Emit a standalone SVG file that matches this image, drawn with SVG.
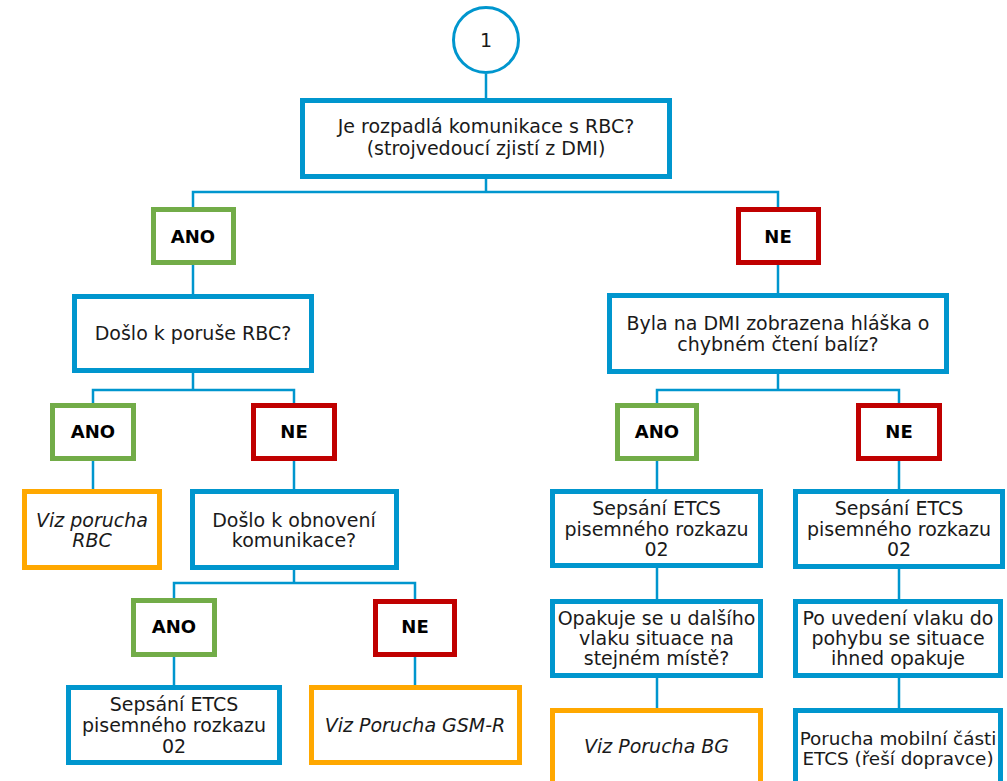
<svg xmlns="http://www.w3.org/2000/svg" width="1007" height="781" viewBox="0 0 1007 781">
<style>
.b{fill:#fff;stroke:#0096CE;stroke-width:5}
.g{fill:#fff;stroke:#72AC48;stroke-width:5}
.r{fill:#fff;stroke:#C00000;stroke-width:5}
.o{fill:#fff;stroke:#FFA800;stroke-width:5}
.t{font-family:"DejaVu Sans",Verdana,sans-serif;font-size:19px;fill:#1a1a1a;text-anchor:middle}
.bt{font-family:"DejaVu Sans",Verdana,sans-serif;font-size:18px;font-weight:bold;fill:#000;text-anchor:middle}
.it{font-style:italic}
.s{font-size:18.4px}
#conn path{fill:none;stroke:#0096CE;stroke-width:2.5}
</style>
<rect width="1007" height="781" fill="#fff"/>
<g id="conn">
<path d="M486 74V98"/>
<path d="M486 179V192M193 207V192H778V207"/>
<path d="M193 265V294"/>
<path d="M778 265V293"/>
<path d="M193 373V390M93 403V390H294V403"/>
<path d="M778 374V390M657 403V390H899V403"/>
<path d="M93 461V489"/>
<path d="M294 461V489"/>
<path d="M294 570V583M174 598V583H415V599"/>
<path d="M174 657V685"/>
<path d="M415 657V685"/>
<path d="M657 461V489M657 568V599M657 678V708"/>
<path d="M899 461V489M899 569V599M899 678V708"/>
</g>
<g id="start"><circle cx="486" cy="40" r="32.5" fill="#fff" stroke="#0096CE" stroke-width="3"/><text class="t" x="486" y="47">1</text></g>
<g id="q1"><rect class="b" x="302.5" y="100.5" width="367" height="76"/><text class="t" x="486" y="133">Je rozpadlá komunikace s RBC?</text><text class="t" x="486" y="155">(strojvedoucí zjistí z DMI)</text></g>
<g id="ano1"><rect class="g" x="153.5" y="209.5" width="80" height="53"/><text class="bt" x="193" y="243">ANO</text></g>
<g id="ne1"><rect class="r" x="738.5" y="209.5" width="80" height="53"/><text class="bt" x="778" y="243">NE</text></g>
<g id="q2"><rect class="b" x="74.5" y="296.5" width="237" height="74"/><text class="t" x="193" y="340">Došlo k poruše RBC?</text></g>
<g id="q3"><rect class="b" x="609.5" y="295.5" width="337" height="76"/><text class="t" x="778" y="330">Byla na DMI zobrazena hláška o</text><text class="t" x="778" y="351">chybném čtení balíz?</text></g>
<g id="ano2l"><rect class="g" x="52.5" y="405.5" width="81" height="53"/><text class="bt" x="93" y="438">ANO</text></g>
<g id="ne2l"><rect class="r" x="253.5" y="405.5" width="81" height="53"/><text class="bt" x="294" y="438">NE</text></g>
<g id="vizrbc"><rect class="o" x="24.5" y="491.5" width="135" height="76"/><text class="t it" x="92" y="527">Viz porucha</text><text class="t it" x="92" y="547">RBC</text></g>
<g id="q4"><rect class="b" x="192.5" y="491.5" width="204" height="76"/><text class="t" x="294" y="527">Došlo k obnovení</text><text class="t" x="294" y="547">komunikace?</text></g>
<g id="ano3"><rect class="g" x="133.5" y="600.5" width="81" height="54"/><text class="bt" x="174" y="633">ANO</text></g>
<g id="ne3"><rect class="r" x="375.5" y="601.5" width="79" height="53"/><text class="bt" x="415" y="633">NE</text></g>
<g id="sep1"><rect class="b" x="68.5" y="687.5" width="211" height="75"/><text class="t" x="174" y="711">Sepsání ETCS</text><text class="t" x="174" y="732">pisemného rozkazu</text><text class="t" x="174" y="753">02</text></g>
<g id="gsmr"><rect class="o" x="311.5" y="687.5" width="208" height="75"/><text class="t it" x="415" y="732">Viz Porucha GSM-R</text></g>
<g id="ano2r"><rect class="g" x="617.5" y="405.5" width="79" height="53"/><text class="bt" x="657" y="438">ANO</text></g>
<g id="ne2r"><rect class="r" x="858.5" y="405.5" width="81" height="53"/><text class="bt" x="899" y="438">NE</text></g>
<g id="sep2"><rect class="b" x="552.5" y="491.5" width="208" height="74"/><text class="t" x="656.5" y="515">Sepsání ETCS</text><text class="t" x="656.5" y="536">pisemného rozkazu</text><text class="t" x="656.5" y="556">02</text></g>
<g id="sep3"><rect class="b" x="795.5" y="491.5" width="207" height="75"/><text class="t" x="899" y="515">Sepsání ETCS</text><text class="t" x="899" y="536">pisemného rozkazu</text><text class="t" x="899" y="556">02</text></g>
<g id="q5"><rect class="b" x="552.5" y="601.5" width="208" height="74"/><text class="t" x="656.5" y="625">Opakuje se u dalšího</text><text class="t" x="656.5" y="645">vlaku situace na</text><text class="t" x="656.5" y="665">stejném místě?</text></g>
<g id="q6"><rect class="b" x="795.5" y="601.5" width="205" height="74"/><text class="t" x="898" y="625">Po uvedení vlaku do</text><text class="t" x="898" y="645">pohybu se situace</text><text class="t" x="898" y="665">ihned opakuje</text></g>
<g id="vizbg"><rect class="o" x="552.5" y="710.5" width="208" height="100"/><text class="t it" x="656.5" y="753">Viz Porucha BG</text></g>
<g id="mobil"><rect class="b" x="795.5" y="710.5" width="205" height="100"/><text class="t s" x="898" y="745">Porucha mobilní části</text><text class="t s" x="898" y="765">ETCS (řeší dopravce)</text></g>
</svg>
